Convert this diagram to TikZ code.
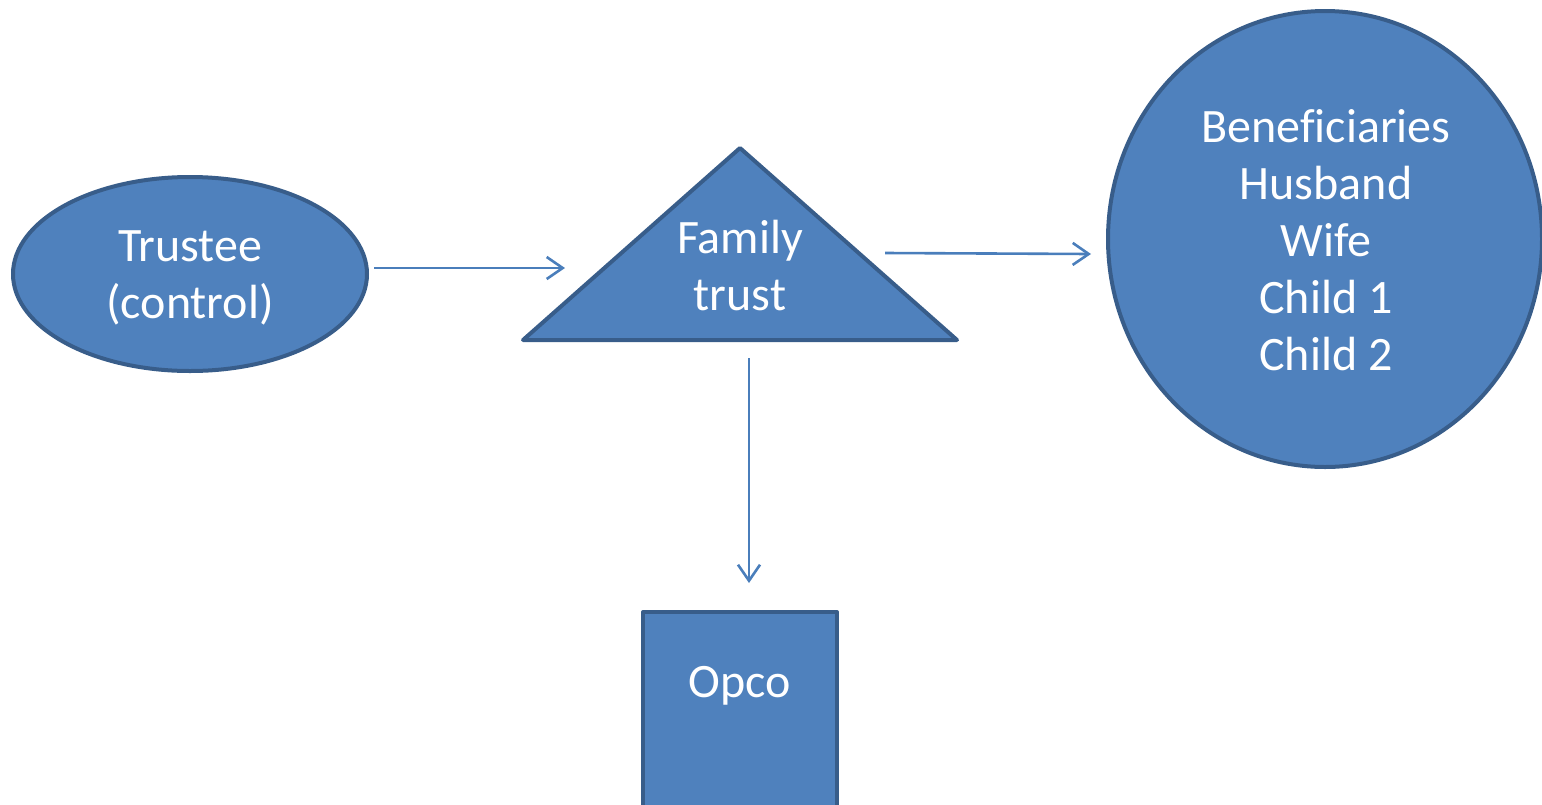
\documentclass[tikz,border=0pt]{standalone}
\usepackage{fontspec}
\setmainfont[Ligatures=NoCommon]{Carlito}
\usetikzlibrary{arrows.meta,shapes.geometric}
\definecolor{shapefill}{HTML}{4F81BD}
\definecolor{shapeline}{HTML}{385D8A}
\definecolor{linkblue}{HTML}{4A7EBB}
\begin{document}
\begin{tikzpicture}[x=1pt,y=-1pt,
  bluebox/.style={fill=shapefill,draw=shapeline,line width=4pt,line join=round},
  whitetext/.style={text=white,font=\fontsize{48}{57}\selectfont,align=center,inner sep=0pt},
  link/.style={draw=linkblue,line width=2.6pt,-{Straight Barb[length=16pt,width=22pt,line width=2.6pt]}}]
\useasboundingbox (0,0) rectangle (1542,804);
\begin{scope}
\clip (0,0) rectangle (1542,804);
% trustee ellipse
\node[bluebox,ellipse,minimum width=354pt,minimum height=194pt,inner sep=0pt] (trustee) at (190,274) {};
\node[whitetext] (trusteetext) at (190,278) {Trustee\\(control)};
% family trust triangle
\coordinate (apex) at (740,148);
\coordinate (baseL) at (523,340);
\coordinate (baseR) at (957,340);
\draw[bluebox] (apex) -- (baseR) -- (baseL) -- cycle;
\node[whitetext] (trust) at (740,266) {Family\\trust};
% beneficiaries circle
\node[bluebox,ellipse,minimum width=434pt,minimum height=456pt,inner sep=0pt] (benef) at (1325,239) {};
\node[whitetext] (beneftext) at (1326,240) {Beneficiaries\\Husband\\Wife\\Child 1\\Child 2};
% operating company
\draw[bluebox] (643,612) rectangle (837,830);
\node[whitetext] (opco) at (740,686) {Opco};
\end{scope}
% connectors
\coordinate (a1s) at (374,268);
\coordinate (a1e) at (565,268);
\coordinate (a2s) at (885,253);
\coordinate (a2e) at (1091,254);
\coordinate (a3s) at (749,358);
\coordinate (a3e) at (749,583);
\draw[link] (a1s) -- (a1e);
\draw[link] (a2s) -- (a2e);
\draw[link] (a3s) -- (a3e);
\end{tikzpicture}
\end{document}
